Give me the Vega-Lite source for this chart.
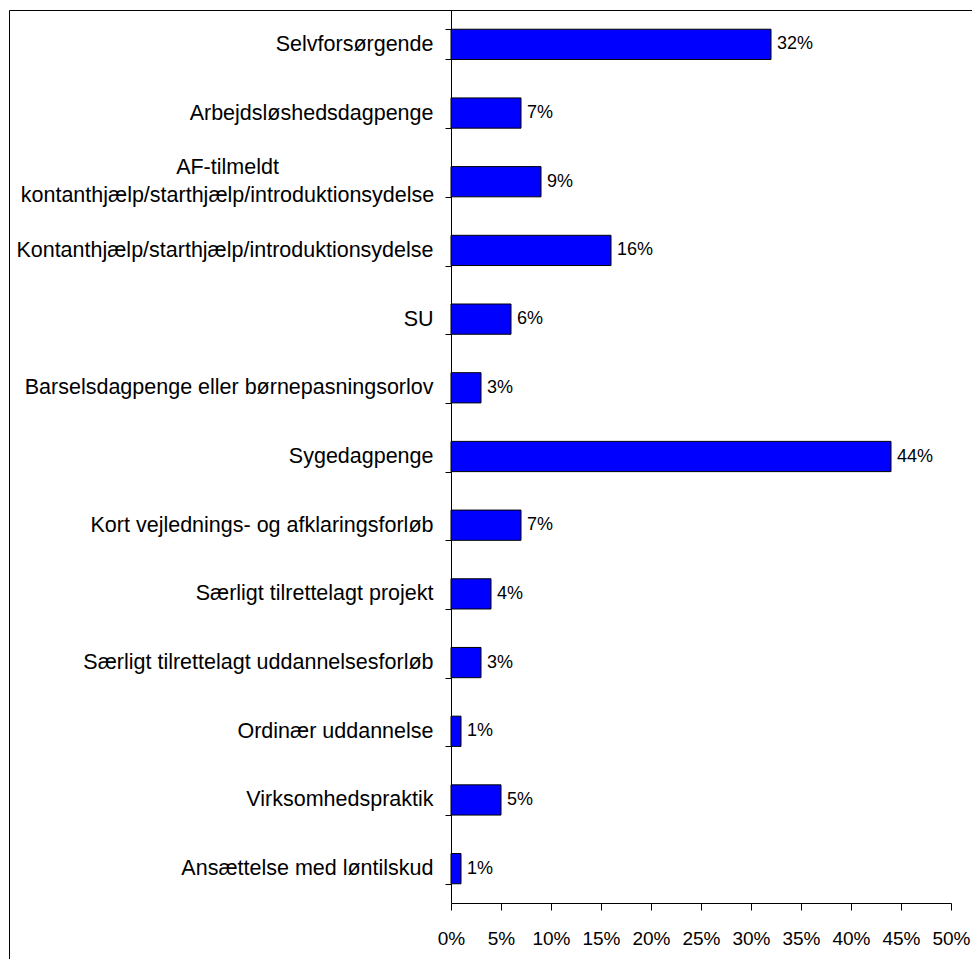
{
  "$schema": "https://vega.github.io/schema/vega-lite/v6.json",
  "autosize": "none",
  "padding": {"left": 9, "top": 10, "right": 0, "bottom": 0},
  "width": 963,
  "height": 960,
  "background": "white",
  "config": {
    "view": {"stroke": "#000000", "strokeWidth": 1},
    "font": "Liberation Sans"
  },
  "data": {
    "values": [
      {"kategori": "Selvforsørgende", "andel": 0.32},
      {"kategori": "Arbejdsløshedsdagpenge", "andel": 0.07},
      {"kategori": "AF-tilmeldt kontanthjælp/starthjælp/introduktionsydelse", "andel": 0.09},
      {"kategori": "Kontanthjælp/starthjælp/introduktionsydelse", "andel": 0.16},
      {"kategori": "SU", "andel": 0.06},
      {"kategori": "Barselsdagpenge eller børnepasningsorlov", "andel": 0.03},
      {"kategori": "Sygedagpenge", "andel": 0.44},
      {"kategori": "Kort vejlednings- og afklaringsforløb", "andel": 0.07},
      {"kategori": "Særligt tilrettelagt projekt", "andel": 0.04},
      {"kategori": "Særligt tilrettelagt uddannelsesforløb", "andel": 0.03},
      {"kategori": "Ordinær uddannelse", "andel": 0.01},
      {"kategori": "Virksomhedspraktik", "andel": 0.05},
      {"kategori": "Ansættelse med løntilskud", "andel": 0.01}
    ]
  },
  "encoding": {
    "y": {
      "field": "kategori",
      "type": "nominal",
      "sort": null,
      "title": null,
      "scale": {"range": [0, 893], "paddingInner": 0.56, "paddingOuter": 0.28},
      "axis": {
        "orient": "left",
        "offset": -442,
        "tickBand": "extent",
        "tickSize": 6,
        "tickColor": "#000000",
        "domainColor": "#000000",
        "labelColor": "#000000",
        "labelFontSize": 21.5,
        "labelLimit": 0,
        "labelLineHeight": 28,
        "labelExpr": "datum.label == 'AF-tilmeldt kontanthjælp/starthjælp/introduktionsydelse' ? ['AF-tilmeldt', 'kontanthjælp/starthjælp/introduktionsydelse'] : datum.label",
        "labelAlign": {"condition": {"test": "datum.value == 'AF-tilmeldt kontanthjælp/starthjælp/introduktionsydelse'", "value": "center"}, "value": "right"},
        "labelPadding": {"condition": {"test": "datum.value == 'AF-tilmeldt kontanthjælp/starthjælp/introduktionsydelse'", "value": 218}, "value": 12},
        "labelOffset": {"condition": {"test": "datum.value == 'AF-tilmeldt kontanthjælp/starthjælp/introduktionsydelse'", "value": -14}, "value": 0}
      }
    },
    "x": {
      "field": "andel",
      "type": "quantitative",
      "title": null,
      "scale": {"domain": [0, 0.5], "range": [442, 942], "nice": false},
      "axis": {
        "orient": "bottom",
        "offset": -67,
        "values": [0, 0.05, 0.1, 0.15, 0.2, 0.25, 0.3, 0.35, 0.4, 0.45, 0.5],
        "format": ".0%",
        "grid": false,
        "tickSize": 7,
        "tickColor": "#000000",
        "domainColor": "#000000",
        "labelColor": "#000000",
        "labelFontSize": 19,
        "labelPadding": 19,
        "labelFlush": false,
        "labelOverlap": false
      }
    }
  },
  "layer": [
    {
      "mark": {"type": "bar", "fill": "#0000FF", "stroke": "#000000", "strokeWidth": 1}
    },
    {
      "mark": {"type": "text", "align": "left", "baseline": "middle", "dx": 6, "fontSize": 18, "color": "#000000"},
      "encoding": {
        "text": {"field": "andel", "type": "quantitative", "format": ".0%"}
      }
    }
  ]
}
